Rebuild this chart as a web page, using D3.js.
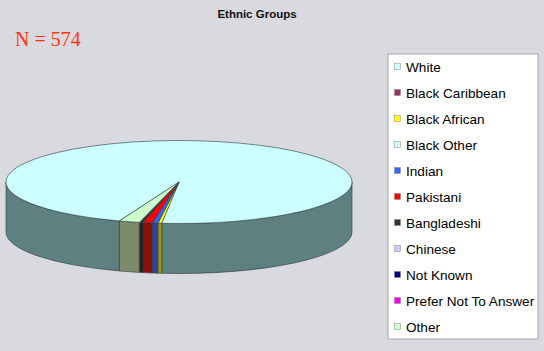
<!DOCTYPE html>
<html>
<head>
<meta charset="utf-8">
<script src="https://cdn.jsdelivr.net/npm/d3@7"></script>
<style>
  body { margin: 0; background: #d9d9e0; }
  svg { display: block; }
</style>
</head>
<body>
<svg id="chart" width="544" height="351"></svg>
<script>
'use strict'

// data
const groups = ['White', 'Black Caribbean', 'Black African', 'Black Other', 'Indian',
  'Pakistani', 'Bangladeshi', 'Chinese', 'Not Known', 'Prefer Not To Answer', 'Other']
const counts = [551, 0, 2, 0, 3, 5, 2, 0, 0, 0, 11]
const topColors = ['#ccffff', '#993366', '#ffff00', '#ccffff', '#3366ff',
  '#ff0000', '#333333', '#ccccff', '#000080', '#ff00ff', '#ccffcc']
const sideColors = ['#5f8080', '#661f44', '#a89a00', '#5f8080', '#2a45a8',
  '#8c0f0f', '#222222', '#8080a0', '#000050', '#990099', '#7f8a6c']

const total = d3.sum(counts)

const cx = 179, cy = 182, rx = 173, ry = 41.5, depth = 50
// rotation so that the small slices sit at the front, as in the picture
const start = Math.PI + 0.1002 - 2 * Math.PI * counts[0] / total

const svg = d3.select('#chart')

svg.append('rect').attr('width', 544).attr('height', 351).attr('fill', '#d9d9e0')

svg.append('text')
  .attr('x', 257).attr('y', 18)
  .attr('text-anchor', 'middle')
  .attr('font-family', 'Liberation Sans, Arial, sans-serif')
  .attr('font-weight', 'bold')
  .attr('font-size', '11.5px')
  .attr('fill', '#111')
  .text('Ethnic Groups')

svg.append('text')
  .attr('x', 15).attr('y', 46)
  .attr('font-family', 'Liberation Serif, Times New Roman, serif')
  .attr('font-size', '20px')
  .attr('fill', '#ff3311')
  .text('N = ' + total)

const pie = d3.pie().sort(null).value(d => d.v)
  .startAngle(start).endAngle(start + 2 * Math.PI)

const slices = pie(groups.map((g, i) => ({ g: g, v: counts[i], i: i })))
  .filter(s => s.data.v > 0)

function pt (a, dy) {
  return [cx + rx * Math.sin(a), cy - ry * Math.cos(a) + (dy || 0)]
}

// outer wall, only the part facing the viewer
function wallPath (a0, a1) {
  const p0 = pt(a0), p1 = pt(a1), q1 = pt(a1, depth), q0 = pt(a0, depth)
  return 'M' + p0 + 'A' + rx + ',' + ry + ' 0 0 1 ' + p1 +
    'L' + q1 + 'A' + rx + ',' + ry + ' 0 0 0 ' + q0 + 'Z'
}

const walls = []
slices.forEach(s => {
  [-2, 0, 2].forEach(k => {
    const lo = Math.PI / 2 + k * Math.PI, hi = 3 * Math.PI / 2 + k * Math.PI
    const a0 = Math.max(s.startAngle, lo), a1 = Math.min(s.endAngle, hi)
    if (a1 > a0) walls.push({ a0: a0, a1: a1, i: s.data.i })
  })
})

const g = svg.append('g')

g.selectAll('path.wall')
  .data(walls)
  .enter()
  .append('path')
  .attr('class', 'wall')
  .attr('d', d => wallPath(d.a0, d.a1))
  .attr('fill', d => sideColors[d.i])
  .attr('stroke', '#2a3a3a')
  .attr('stroke-width', 0.6)

const arc = d3.arc().innerRadius(0).outerRadius(rx)

g.append('g')
  .attr('transform', 'translate(' + cx + ',' + cy + ') scale(1,' + (ry / rx) + ')')
  .selectAll('path')
  .data(slices)
  .enter()
  .append('path')
  .attr('d', arc)
  .attr('fill', d => topColors[d.data.i])
  .attr('stroke', '#2a3a3a')
  .attr('stroke-width', 0.6)
  .attr('vector-effect', 'non-scaling-stroke')

// legend
const legend = svg.append('g').attr('transform', 'translate(388,54)')

legend.append('rect')
  .attr('width', 150).attr('height', 285)
  .attr('fill', '#ffffff')
  .attr('stroke', '#a8a8a8')
  .attr('stroke-width', 1)

const item = legend.selectAll('g.item')
  .data(groups)
  .enter()
  .append('g')
  .attr('class', 'item')
  .attr('transform', (d, i) => 'translate(0,' + (13 + i * 26) + ')')

item.append('rect')
  .attr('x', 6.5).attr('y', -3.5)
  .attr('width', 6).attr('height', 6)
  .attr('fill', (d, i) => topColors[i])
  .attr('stroke', '#888')
  .attr('stroke-width', 0.5)

item.append('text')
  .attr('x', 18).attr('y', 4.5)
  .attr('font-family', 'Liberation Sans, Arial, sans-serif')
  .attr('font-size', '13.6px')
  .attr('fill', '#000')
  .text(d => d)
</script>
</body>
</html>
